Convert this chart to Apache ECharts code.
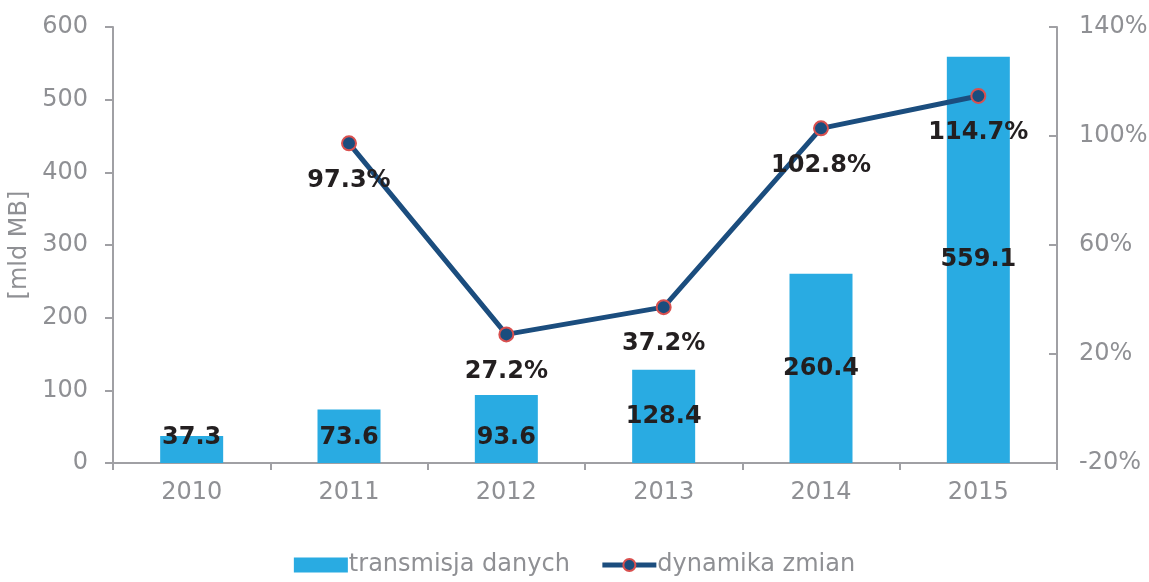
<!DOCTYPE html>
<html>
<head>
<meta charset="utf-8">
<script src="https://cdn.jsdelivr.net/npm/echarts@6/dist/echarts.min.js"></script>
<style>
  html, body { margin: 0; padding: 0; background: #fff; }
  #chart { width: 1149px; height: 582px; }
</style>
</head>
<body>
<div id="chart"></div>
<script>
var years = ['2010', '2011', '2012', '2013', '2014', '2015'];
var transmisja = [37.3, 73.6, 93.6, 128.4, 260.4, 559.1];
var dynamika = [null, 97.3, 27.2, 37.2, 102.8, 114.7];

var grey = '#8f9094';
var font = 'DejaVu Sans, Verdana, sans-serif';
var axisText = { color: grey, fontSize: 24, fontFamily: font };

// male slupki: etykieta przy podstawie, jak w oryginale
var barData = transmisja.map(function (v) {
  if (v < 100) {
    return { value: v, label: { position: 'insideBottom', distance: 13 } };
  }
  return v;
});

echarts.init(document.getElementById('chart')).setOption({
  backgroundColor: '#fff',
  animation: false,
  grid: { left: 113, right: 92, top: 27, bottom: 119, outerBoundsMode: 'none', containLabel: false },
  legend: {
    bottom: 0,
    left: 'center',
    itemGap: 30,
    itemWidth: 54,
    itemHeight: 15,
    textStyle: { color: grey, fontSize: 24, fontFamily: font, padding: [0, 0, 0, -4] },
    data: [
      { name: 'transmisja danych', icon: 'rect' },
      { name: 'dynamika zmian', lineStyle: { width: 5 } }
    ]
  },
  xAxis: {
    type: 'category',
    data: years,
    axisLine: { lineStyle: { color: '#a0a0a4', width: 2 } },
    axisTick: { show: true, length: 7, lineStyle: { color: '#a0a0a4', width: 2 } },
    axisLabel: Object.assign({ margin: 18 }, axisText)
  },
  yAxis: [{
    type: 'value',
    min: 0,
    max: 600,
    interval: 100,
    name: '[mld MB]',
    nameLocation: 'middle',
    nameGap: 81,
    nameRotate: 90,
    nameTextStyle: axisText,
    splitLine: { show: false },
    axisLine: { show: true, lineStyle: { color: '#a0a0a4', width: 2 } },
    axisTick: { show: true, length: 8, lineStyle: { color: '#a0a0a4', width: 2 } },
    axisLabel: Object.assign({ margin: 25 }, axisText)
  }, {
    type: 'value',
    min: -20,
    max: 140,
    interval: 40,
    position: 'right',
    splitLine: { show: false },
    axisLine: { show: true, lineStyle: { color: '#a0a0a4', width: 2 } },
    axisTick: { show: true, inside: true, length: 8, lineStyle: { color: '#a0a0a4', width: 2 } },
    axisLabel: Object.assign({ margin: 22, formatter: '{value}%' }, axisText)
  }],
  series: [{
    name: 'transmisja danych',
    type: 'bar',
    data: barData,
    barWidth: 63,
    itemStyle: { color: '#29abe2' },
    label: {
      show: true,
      position: 'inside',
      color: '#231f20',
      fontSize: 24,
      fontWeight: 'bold',
      fontFamily: font,
      formatter: function (p) { return p.value.toFixed(1); }
    }
  }, {
    name: 'dynamika zmian',
    type: 'line',
    yAxisIndex: 1,
    data: dynamika,
    symbol: 'circle',
    symbolSize: 14,
    lineStyle: { color: '#1b4d7e', width: 5 },
    itemStyle: { color: '#1b4d7e', borderColor: '#d9504f', borderWidth: 2 },
    label: {
      show: true,
      position: 'bottom',
      distance: 17,
      color: '#231f20',
      fontSize: 24,
      fontWeight: 'bold',
      fontFamily: font,
      formatter: function (p) { return p.value.toFixed(1) + '%'; }
    },
    z: 5
  }]
});
</script>
</body>
</html>
